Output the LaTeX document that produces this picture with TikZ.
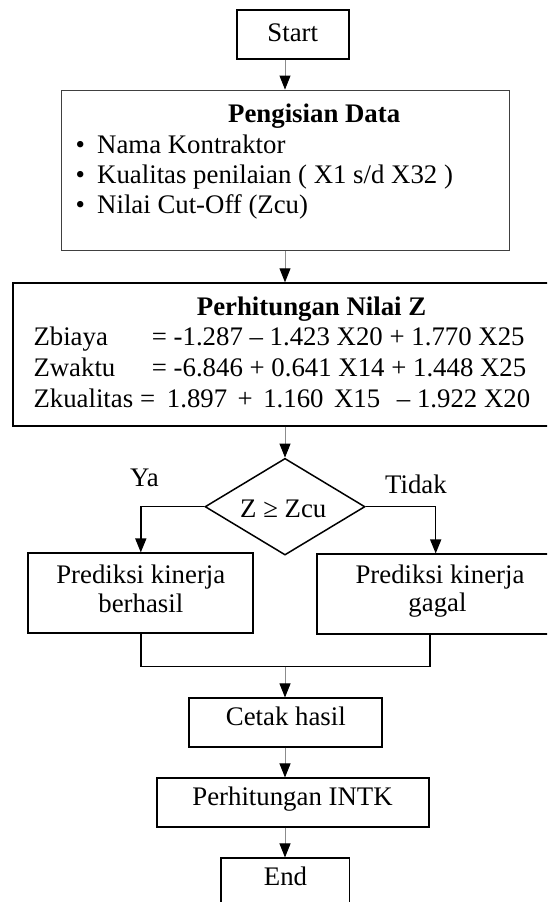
\documentclass[tikz,border=0pt]{standalone}
\usepackage{fontspec}
\setmainfont{Liberation Serif}
\usetikzlibrary{shapes.geometric,arrows.meta}
\begin{document}
\begin{tikzpicture}[x=1pt,y=-1pt,
  boxa/.style={draw=black,line width=1.7pt,rectangle,inner sep=0pt},
  txt/.style={inner sep=0pt,font=\fontsize{26.8}{30}\selectfont},
  btxt/.style={inner sep=0pt,font=\fontsize{26.8}{30}\selectfont\bfseries},
  conn/.style={draw=black!45,line width=0.9pt,-{Triangle[length=14pt,width=11pt,color=black]}},
  branch/.style={draw=black,line width=1.5pt},
  barr/.style={draw=black,line width=1.5pt,-{Triangle[length=14pt,width=11pt]}}]
\useasboundingbox (0,0) rectangle (547,902);
\clip (0,0) rectangle (547,902);
\coordinate (ax) at (285,0);
\coordinate (nx) at (435.7,0);
\coordinate (mx) at (430,0);
\coordinate (m) at (285,666.7);

% boxes
\node[boxa,minimum width=112.6pt,minimum height=49pt] (start) at (293,34.5) {};
\node[rectangle,draw=black!75,line width=1pt,inner sep=0pt,minimum width=448.3pt,minimum height=160.5pt] (data) at (285.2,170.3) {};
\node[rectangle,draw=black,line width=2pt,inner sep=0pt,minimum width=586.7pt,minimum height=142.4pt] (calc) at (306.7,354.5) {};
\node[diamond,draw=black,line width=1.5pt,inner sep=0pt,minimum width=160pt,minimum height=96.7pt] (dia) at (285,506.7) {};
\node[boxa,minimum width=225pt,minimum height=80pt] (yes) at (140.8,593.3) {};
\node[boxa,minimum width=246.3pt,minimum height=80pt] (no) at (439.9,594.3) {};
\node[boxa,minimum width=192.7pt,minimum height=48.4pt] (cetak) at (285.3,722.5) {};
\node[boxa,minimum width=272.6pt,minimum height=48.4pt] (intk) at (293,802.5) {};
\node[boxa,minimum width=128.3pt,minimum height=48.4pt] (end) at (285.2,882.5) {};

% texts
\node[txt,anchor=base] (tstart) at (292.8,41.7) {Start};
\node[btxt,anchor=base west] (tdata) at (228,122) {Pengisian Data};
\node[txt,anchor=base west] (bu1) at (75.5,153) {\textbullet};
\node[txt,anchor=base west] (bu2) at (75.5,183) {\textbullet};
\node[txt,anchor=base west] (bu3) at (75.5,213) {\textbullet};
\node[txt,anchor=base west] (li1) at (97,153) {Nama Kontraktor};
\node[txt,anchor=base west] (li2) at (97,183) {Kualitas penilaian ( X1 s/d X32 )};
\node[txt,anchor=base west] (li3) at (97,213) {Nilai Cut-Off (Zcu)};

\node[btxt,anchor=base west] (tcalc) at (196.7,315) {Perhitungan Nilai Z};
\node[txt,anchor=base west] (z1) at (33.3,345) {Zbiaya};
\node[txt,anchor=base west] (z2) at (33.3,376) {Zwaktu};
\node[txt,anchor=base west] (z3) at (33.3,407) {Zkualitas};
\node[txt,anchor=base west] (e1) at (151.7,345) {= -1.287 – 1.423 X20 + 1.770 X25};
\node[txt,anchor=base west] (e2) at (151.7,376) {= -6.846 + 0.641 X14 + 1.448 X25};
\node[txt,anchor=base west] (q3) at (140,407) {=};
\node[txt,anchor=base west] (e3) at (166.7,407) {\spaceskip=10.5pt 1.897 + 1.160 X15};
\node[txt,anchor=base west] (e3b) at (396.7,407) {– 1.922 X20};

\node[txt,anchor=base west] (tya) at (130,486.7) {Ya};
\node[txt,anchor=base west] (ttidak) at (385,493.3) {Tidak};
\node[txt,anchor=base west] (tdia) at (240,517.7) {Z ≥ Zcu};

\node[txt,anchor=base] (ty1) at (140.8,583.3) {Prediksi kinerja};
\node[txt,anchor=base] (ty2) at (140.8,612.7) {berhasil};
\node[txt,anchor=base] (tn1) at (440,583.3) {Prediksi kinerja};
\node[txt,anchor=base] (tn2) at (437.5,611.7) {gagal};
\node[txt,anchor=base] (tcetak) at (285.8,725) {Cetak hasil};
\node[txt,anchor=base] (tintk) at (292.5,805) {Perhitungan INTK};
\node[txt,anchor=base] (tend) at (285.5,885) {End};

% connectors
\draw[conn] (start.south -| ax) -- (data.north -| ax);
\draw[conn] (data.south -| ax) -- (calc.north -| ax);
\draw[conn] (calc.south -| ax) -- (dia.north);
\draw[barr] (dia.west) -| (yes.north);
\draw[barr] (dia.east) -| (no.north -| nx);
\draw[branch] (yes.south) |- (m) -| (no.south -| mx);
\draw[conn] (m) -- (cetak.north -| ax);
\draw[conn] (cetak.south -| ax) -- (intk.north -| ax);
\draw[conn] (intk.south -| ax) -- (end.north -| ax);
\end{tikzpicture}
\end{document}
